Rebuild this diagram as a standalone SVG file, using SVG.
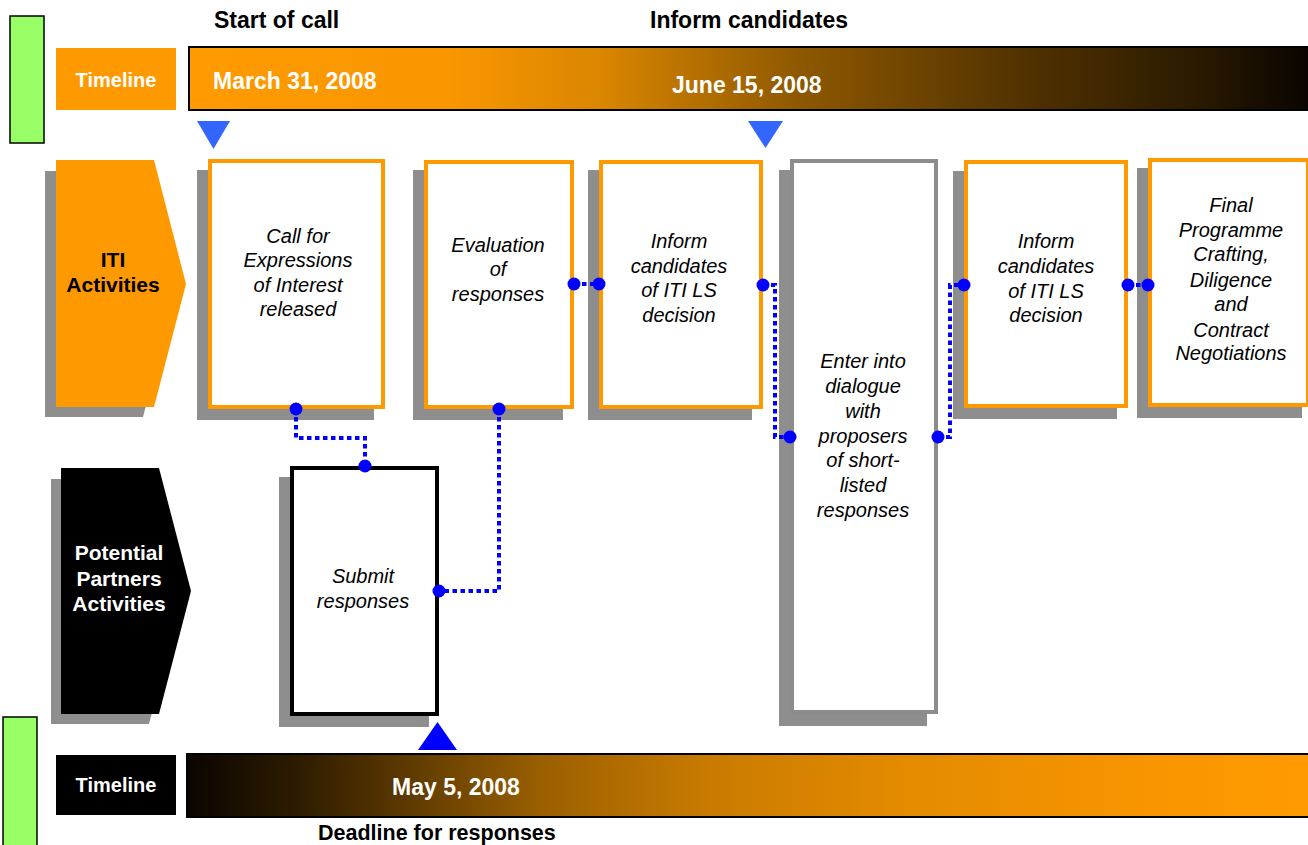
<svg xmlns="http://www.w3.org/2000/svg" width="1308" height="845" viewBox="0 0 1308 845">
<defs>
<linearGradient id="gTop" gradientUnits="userSpaceOnUse" x1="189" y1="0" x2="1308" y2="0">
<stop offset="0" stop-color="#FF9A00"/>
<stop offset="0.233" stop-color="#F99600"/>
<stop offset="0.367" stop-color="#DA8600"/>
<stop offset="0.546" stop-color="#8E5800"/>
<stop offset="0.725" stop-color="#573600"/>
<stop offset="0.9" stop-color="#2A1A00"/>
<stop offset="1" stop-color="#0A0500"/>
</linearGradient>
<linearGradient id="gBot" gradientUnits="userSpaceOnUse" x1="187" y1="0" x2="1308" y2="0">
<stop offset="0" stop-color="#0A0500"/>
<stop offset="0.1" stop-color="#2E1C00"/>
<stop offset="0.19" stop-color="#5A3800"/>
<stop offset="0.32" stop-color="#9C6000"/>
<stop offset="0.46" stop-color="#C87A00"/>
<stop offset="0.64" stop-color="#E48B00"/>
<stop offset="0.86" stop-color="#F89500"/>
<stop offset="1" stop-color="#FF9A00"/>
</linearGradient>
</defs>
<style>
.shadow{fill:#8E8E8E}
.obox{fill:#FFFFFF;stroke:#FF9900;stroke-width:4}
.gbox{fill:#FFFFFF;stroke:#8C8C8C;stroke-width:4}
.kbox{fill:#FFFFFF;stroke:#000000;stroke-width:4}
.it{font-family:"Liberation Sans",Arial,sans-serif;font-style:italic;font-size:20px;fill:#000;text-anchor:middle}
.hd{font-family:"Liberation Sans",Arial,sans-serif;font-weight:bold;font-size:23px;fill:#000}
.hd2{font-family:"Liberation Sans",Arial,sans-serif;font-weight:bold;font-size:21.5px;fill:#000}
.wb{font-family:"Liberation Sans",Arial,sans-serif;font-weight:bold;fill:#FFF}
.lab{font-family:"Liberation Sans",Arial,sans-serif;font-weight:bold;font-size:21px;text-anchor:middle}
.green{fill:#99FF66;stroke:#000;stroke-width:1.5}
.conn{fill:none;stroke:#0000FF;stroke-width:4;stroke-dasharray:4.5 3.5}
.dot{fill:#0000FF}
</style>

<g id="green-markers">
<rect class="green" x="10" y="16" width="34" height="127"/>
<rect class="green" x="3" y="717" width="34" height="135"/>
</g>

<g id="top-timeline">
<rect x="56" y="48" width="120" height="62" fill="#FF9900"/>
<text class="wb" x="116" y="87" font-size="20" text-anchor="middle">Timeline</text>
<rect x="189" y="47" width="1125" height="63" fill="url(#gTop)" stroke="#000" stroke-width="2"/>
<text class="wb" x="213" y="89" font-size="23">March 31, 2008</text>
<text class="wb" x="672" y="93" font-size="23">June 15, 2008</text>
<text class="hd" x="214" y="28">Start of call</text>
<text class="hd" x="650" y="28">Inform candidates</text>
<polygon points="197,121 230,121 213.5,149" fill="#3366FF"/>
<polygon points="748,121 783,121 765.5,148" fill="#3366FF"/>
</g>

<g id="bottom-timeline">
<rect x="56" y="755" width="120" height="60" fill="#000"/>
<text class="wb" x="116" y="792" font-size="20" text-anchor="middle">Timeline</text>
<rect x="187" y="754" width="1127" height="63" fill="url(#gBot)" stroke="#000" stroke-width="2"/>
<text class="wb" x="392" y="795" font-size="23">May 5, 2008</text>
<text class="hd2" x="318" y="840">Deadline for responses</text>
<polygon points="418,750 457,750 437.5,722" fill="#0000FF"/>
</g>

<g id="iti-activities">
<polygon class="shadow" points="45,171 143,171 175,295 143,417 45,417"/>
<polygon points="56,160 154,160 186,284 154,407 56,407" fill="#FF9900"/>
<text class="lab" x="113" y="267" fill="#000">ITI</text>
<text class="lab" x="113" y="292" fill="#000">Activities</text>
</g>

<g id="partners-activities">
<polygon class="shadow" points="51,479 149,479 181,602 149,724 51,724"/>
<polygon points="61,468 159,468 191,591 159,714 61,714" fill="#000"/>
<text class="lab" x="119" y="560" fill="#FFF">Potential</text>
<text class="lab" x="119" y="586" fill="#FFF">Partners</text>
<text class="lab" x="119" y="611" fill="#FFF">Activities</text>
</g>

<g id="box-call">
<rect class="shadow" x="197" y="170" width="177" height="250"/>
<rect class="obox" x="210" y="161" width="173" height="246"/>
<text class="it" x="298" y="243">Call for</text>
<text class="it" x="298" y="267">Expressions</text>
<text class="it" x="298" y="292">of Interest</text>
<text class="it" x="298" y="316">released</text>
</g>

<g id="box-evaluation">
<rect class="shadow" x="413" y="170" width="150" height="250"/>
<rect class="obox" x="426" y="162" width="146" height="245"/>
<text class="it" x="498" y="252">Evaluation</text>
<text class="it" x="498" y="276">of</text>
<text class="it" x="498" y="301">responses</text>
</g>

<g id="box-inform1">
<rect class="shadow" x="588" y="170" width="164" height="250"/>
<rect class="obox" x="601" y="162" width="160" height="245"/>
<text class="it" x="679" y="248">Inform</text>
<text class="it" x="679" y="273">candidates</text>
<text class="it" x="679" y="297">of ITI LS</text>
<text class="it" x="679" y="322">decision</text>
</g>

<g id="box-dialogue">
<rect class="shadow" x="779" y="170" width="148" height="556"/>
<rect class="gbox" x="792" y="161" width="144" height="551"/>
<text class="it" x="863" y="368">Enter into</text>
<text class="it" x="863" y="393">dialogue</text>
<text class="it" x="863" y="418">with</text>
<text class="it" x="863" y="443">proposers</text>
<text class="it" x="863" y="467">of short-</text>
<text class="it" x="863" y="492">listed</text>
<text class="it" x="863" y="517">responses</text>
</g>

<g id="box-inform2">
<rect class="shadow" x="953" y="171" width="164" height="248"/>
<rect class="obox" x="966" y="162" width="160" height="244"/>
<text class="it" x="1046" y="248">Inform</text>
<text class="it" x="1046" y="273">candidates</text>
<text class="it" x="1046" y="298">of ITI LS</text>
<text class="it" x="1046" y="322">decision</text>
</g>

<g id="box-final">
<rect class="shadow" x="1137" y="168" width="165" height="250"/>
<rect class="obox" x="1150" y="160" width="158" height="245"/>
<text class="it" x="1231" y="212">Final</text>
<text class="it" x="1231" y="237">Programme</text>
<text class="it" x="1231" y="261">Crafting,</text>
<text class="it" x="1231" y="287">Diligence</text>
<text class="it" x="1231" y="311">and</text>
<text class="it" x="1231" y="337">Contract</text>
<text class="it" x="1231" y="360">Negotiations</text>
</g>

<g id="box-submit">
<rect class="shadow" x="279" y="477" width="150" height="250"/>
<rect class="kbox" x="292" y="468" width="145" height="246"/>
<text class="it" x="363" y="583">Submit</text>
<text class="it" x="363" y="608">responses</text>
</g>

<g id="connectors">
<path class="conn" d="M296 409 V438 H365 V466"/>
<path class="conn" d="M499 409 V591 H439"/>
<path class="conn" d="M574 284 H599"/>
<path class="conn" d="M763 285 H775 V437 H790"/>
<path class="conn" d="M938 437 H950 V285 H964"/>
<path class="conn" d="M1128 285 H1148"/>
<circle class="dot" cx="296" cy="409" r="6.5"/>
<circle class="dot" cx="365" cy="466" r="6.5"/>
<circle class="dot" cx="499" cy="409" r="6.5"/>
<circle class="dot" cx="439" cy="591" r="6.5"/>
<circle class="dot" cx="574" cy="284" r="6.5"/>
<circle class="dot" cx="599" cy="284" r="6.5"/>
<circle class="dot" cx="763" cy="285" r="6.5"/>
<circle class="dot" cx="790" cy="437" r="6.5"/>
<circle class="dot" cx="938" cy="437" r="6.5"/>
<circle class="dot" cx="964" cy="285" r="6.5"/>
<circle class="dot" cx="1128" cy="285" r="6.5"/>
<circle class="dot" cx="1148" cy="285" r="6.5"/>
</g>
</svg>
